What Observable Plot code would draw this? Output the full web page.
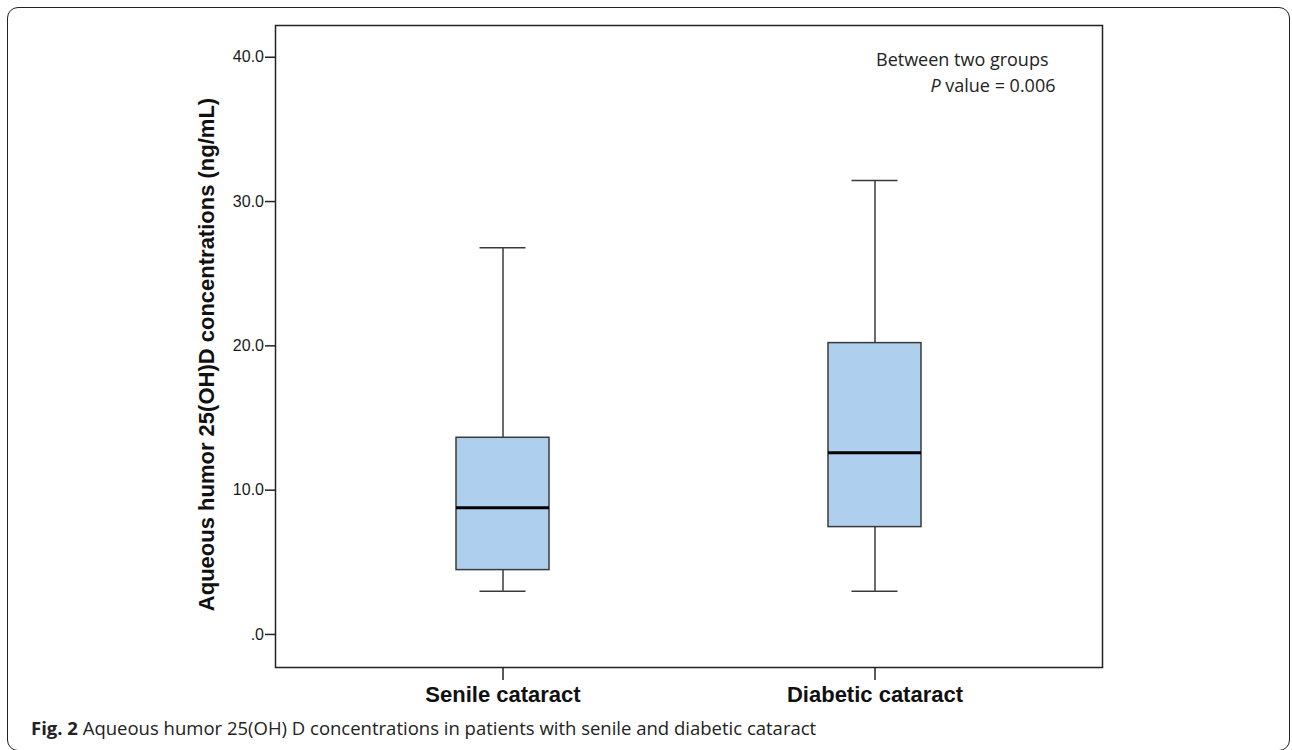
<!DOCTYPE html>
<html>
<head>
<meta charset="utf-8">
<script src="https://cdn.jsdelivr.net/npm/d3@7"></script>
<script src="https://cdn.jsdelivr.net/npm/@observablehq/plot@0.6"></script>
<style>
  html, body { margin: 0; padding: 0; background: #fff; }
  #page { position: relative; width: 1292px; height: 750px; overflow: hidden; }
  #border { position: absolute; left: 7px; top: 7px; width: 1281px; height: 742px;
            border: 1.5px solid #222; border-radius: 11px; }
  #chart { position: absolute; left: 0; top: 0; }
  #caption { position: absolute; left: 31px; top: 717px; line-height: 22px;
             font-family: "Open Sans", "Noto Sans", sans-serif; font-size: 18.5px; color: #222; white-space: nowrap; }
  #caption b { font-weight: 700; }
</style>
</head>
<body>
<div id="page">
  <div id="border"></div>
  <div id="chart"></div>
  <div id="caption"><b>Fig. 2</b> Aqueous humor 25(OH) D concentrations in patients with senile and diabetic cataract</div>
</div>
<script>
// ---- data ----
const groups = ["Senile cataract", "Diabetic cataract"];
const whiskerLow = [3.0, 3.0];
const q1 = [4.46, 7.44];
const median = [8.78, 12.59];
const q3 = [13.63, 20.19];
const whiskerHigh = [26.8, 31.46];
const yTicks = [0, 10, 20, 30, 40];
const yTickLabels = [".0", "10.0", "20.0", "30.0", "40.0"];
const yLabel = "Aqueous humor 25(OH)D concentrations (ng/mL)";
const noteLine1 = "Between two groups";
const noteLine2 = "P value = 0.006";

const rows = groups.map((g, i) => ({
  group: g, lo: whiskerLow[i], q1: q1[i], med: median[i], q3: q3[i], hi: whiskerHigh[i]
}));

const lineColor = "#3a3a3a";

const chart = Plot.plot({
  width: 1292,
  height: 720,
  marginTop: 25,
  marginBottom: 53,
  marginLeft: 275,
  marginRight: 190,
  style: { fontFamily: "'Liberation Sans', Arial, sans-serif", fontSize: "15px", background: "transparent", color: "#222", overflow: "visible" },
  x: { type: "band", domain: groups, paddingInner: 0.75, paddingOuter: 0.485, label: null },
  y: { domain: [-2.29, 42.2], label: null },
  marks: [
    Plot.frame({ stroke: "#222", strokeWidth: 1.5 }),
    // whiskers
    Plot.ruleX(rows, { x: "group", y1: "lo", y2: "q1", stroke: lineColor, strokeWidth: 1.5 }),
    Plot.ruleX(rows, { x: "group", y1: "q3", y2: "hi", stroke: lineColor, strokeWidth: 1.5 }),
    Plot.tickY(rows, { x: "group", y: "lo", insetLeft: 23.5, insetRight: 23.5, stroke: lineColor, strokeWidth: 1.5 }),
    Plot.tickY(rows, { x: "group", y: "hi", insetLeft: 23.5, insetRight: 23.5, stroke: lineColor, strokeWidth: 1.5 }),
    // boxes
    Plot.barY(rows, { x: "group", y1: "q1", y2: "q3", fill: "#aecfee", stroke: lineColor, strokeWidth: 1.5 }),
    Plot.tickY(rows, { x: "group", y: "med", stroke: "#000", strokeWidth: 3 }),
    // axes
    Plot.axisY({ ticks: yTicks, tickFormat: (d) => yTickLabels[yTicks.indexOf(d)], tickSize: 10, tickPadding: 1.5,
                 fontSize: 16, stroke: "#222", strokeWidth: 1.5, fill: "#1a1a1a", label: null }),
    Plot.axisX({ tickSize: 13, tickPadding: 6, fontSize: 22, fontWeight: "bold", stroke: "#222", strokeWidth: 1.5,
                 fill: "#111", label: null }),
    // y axis title
    Plot.text([yLabel], { frameAnchor: "left", rotate: -90, dx: -62, dy: 8, lineAnchor: "bottom", textAnchor: "middle",
                          fontSize: 22, fontWeight: "bold", fill: "#111" }),
    // annotation
    Plot.text([noteLine1], { frameAnchor: "top-right", textAnchor: "end", lineAnchor: "bottom", dx: -54, dy: 40,
                             fontFamily: "'Open Sans', sans-serif", fontSize: 18, fill: "#222" }),
    Plot.text([noteLine2], { frameAnchor: "top-right", textAnchor: "end", lineAnchor: "bottom", dx: -47, dy: 66,
                             fontFamily: "'Open Sans', sans-serif", fontSize: 18, fill: "#222" })
  ]
});

// italic P in the annotation
d3.select(chart).selectAll("text").each(function () {
  if (this.textContent === noteLine2) {
    const t = d3.select(this);
    t.text(null);
    t.append("tspan").attr("font-style", "italic").text("P");
    t.append("tspan").text(noteLine2.slice(1));
  }
});

document.getElementById("chart").appendChild(chart);
</script>
</body>
</html>
